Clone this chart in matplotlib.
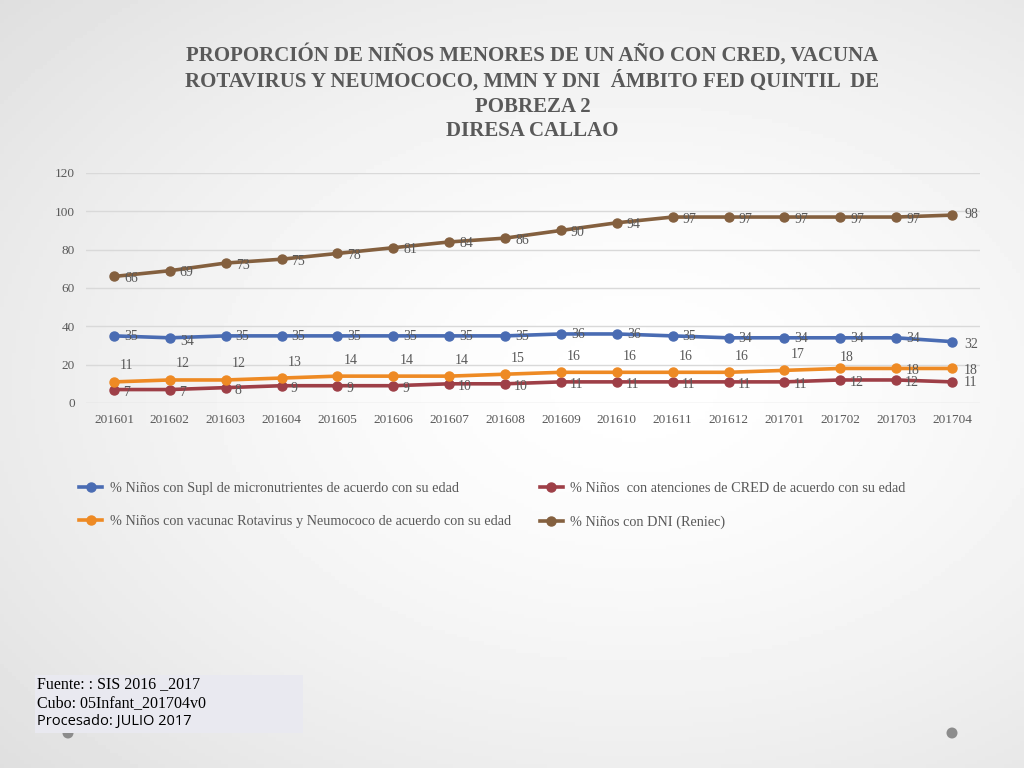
import matplotlib.pyplot as plt
import numpy as np
from matplotlib.patches import Rectangle, Ellipse

periodos = ["201601", "201602", "201603", "201604", "201605", "201606", "201607", "201608",
            "201609", "201610", "201611", "201612", "201701", "201702", "201703", "201704"]
micronutrientes = [35, 34, 35, 35, 35, 35, 35, 35, 36, 36, 35, 34, 34, 34, 34, 32]
cred = [7, 7, 8, 9, 9, 9, 10, 10, 11, 11, 11, 11, 11, 12, 12, 11]
vacunas = [11, 12, 12, 13, 14, 14, 14, 15, 16, 16, 16, 16, 17, 18, 18, 18]
dni = [66, 69, 73, 75, 78, 81, 84, 86, 90, 94, 97, 97, 97, 97, 97, 98]

nombres = ["% Niños con Supl de micronutrientes de acuerdo con su edad",
           "% Niños  con atenciones de CRED de acuerdo con su edad",
           "% Niños con vacunac Rotavirus y Neumococo de acuerdo con su edad",
           "% Niños con DNI (Reniec)"]
colores = ["#4a6cb3", "#9e3f47", "#ee8a24", "#84603f"]

titulo = ("PROPORCIÓN DE NIÑOS MENORES DE UN AÑO CON CRED, VACUNA\n"
          "ROTAVIRUS Y NEUMOCOCO, MMN Y DNI  ÁMBITO FED QUINTIL  DE\n"
          "POBREZA 2\nDIRESA CALLAO")

serif = ["Liberation Serif", "DejaVu Serif"]
gris = "#595959"

fig = plt.figure(figsize=(10.24, 7.68), dpi=100)

# fondo degradado
fondo = fig.add_axes([0, 0, 1, 1], zorder=-5)
yy, xx = np.mgrid[0:1:200j, 0:1:260j]
r = np.sqrt(((xx - 0.62) / 0.9) ** 2 + ((yy - 0.5) / 0.8) ** 2)
fondo.imshow(1 - 0.14 * np.clip(r, 0, 1) ** 1.5, cmap="gray", vmin=0, vmax=1,
             aspect="auto", extent=[0, 1, 0, 1])
fondo.set_axis_off()

ax = fig.add_axes([0.084, 0.4753, 0.873, 0.2995])
ax.set_facecolor("none")
x = np.arange(len(periodos))

series = [micronutrientes, cred, vacunas, dni]
lineas = []
for datos, nombre, color in zip(series, nombres, colores):
    l, = ax.plot(x, datos, "-o", color=color, lw=2.6, ms=6.5, label=nombre, zorder=3)
    lineas.append(l)

def etiquetas(datos, dx, dy, ha="left", especiales=None):
    especiales = especiales or {}
    for i, v in enumerate(datos):
        ox, oy, h = especiales.get(i, (dx, dy, ha))
        ax.annotate(str(v), (x[i], v), xytext=(ox, oy), textcoords="offset pixels",
                    ha=h, va="center", fontsize=10, color=gris, family=serif, zorder=4)

etiquetas(micronutrientes, 10, -1, especiales={1: (10, -4, "left"), 15: (12, -3, "left")})
etiquetas(cred, 9, -3, especiales={15: (12, -1, "left")})
etiquetas(vacunas, 13, 16, ha="center",
          especiales={13: (6, 11, "center"), 14: (10, -2, "left"), 15: (12, -2, "left")})
etiquetas(dni, 10, -2, especiales={15: (12, 1, "left")})

ax.set_xlim(-0.5, len(periodos) - 0.5)
ax.set_ylim(0, 120)
ax.set_yticks(range(0, 121, 20))
ax.set_xticks(x)
ax.set_xticklabels(periodos)
ax.tick_params(length=0, labelsize=9.5, labelcolor=gris, pad=8)
for t in ax.get_xticklabels() + ax.get_yticklabels():
    t.set_family(serif)
ax.grid(axis="y", color="#d9d9d9", lw=1)
ax.set_axisbelow(True)
for s in ax.spines.values():
    s.set_visible(False)

fig.text(0.52, 0.943, titulo, ha="center", va="top", fontsize=15, fontweight="bold",
         color=gris, family=serif, linespacing=1.3)

orden = [lineas[0], lineas[2], lineas[1], lineas[3]]
leg = fig.legend(orden, [l.get_label() for l in orden], ncol=2, loc="center",
                 bbox_to_anchor=(0.481, 0.342), frameon=False, handlelength=1.6,
                 handletextpad=0.55, columnspacing=2.0, labelspacing=1.45,
                 prop={"family": serif, "size": 10.3})
for t in leg.get_texts():
    t.set_color(gris)

# recuadro de fuente
fig.patches.append(Rectangle((35 / 1024, 1 - 733 / 768), 268 / 1024, 58 / 768,
                             transform=fig.transFigure, facecolor="#e9e9f0", edgecolor="none"))
fig.text(37 / 1024, 1 - 684 / 768, "Fuente: : SIS 2016 _2017", va="center", fontsize=11.5,
         family=serif, color="black")
fig.text(37 / 1024, 1 - 703 / 768, "Cubo: 05Infant_201704v0", va="center", fontsize=11.5,
         family=serif, color="black")
fig.text(37 / 1024, 1 - 721 / 768, "Procesado: JULIO 2017", va="center", fontsize=10.5,
         family="Open Sans", color="black")

for cx in (68, 952):
    fig.patches.append(Ellipse((cx / 1024, 1 - 733 / 768), 11 / 1024, 11 / 768,
                               transform=fig.transFigure, facecolor="#8c8c8c",
                               edgecolor="none", zorder=-1))

fig.savefig("out.png", dpi=100)
